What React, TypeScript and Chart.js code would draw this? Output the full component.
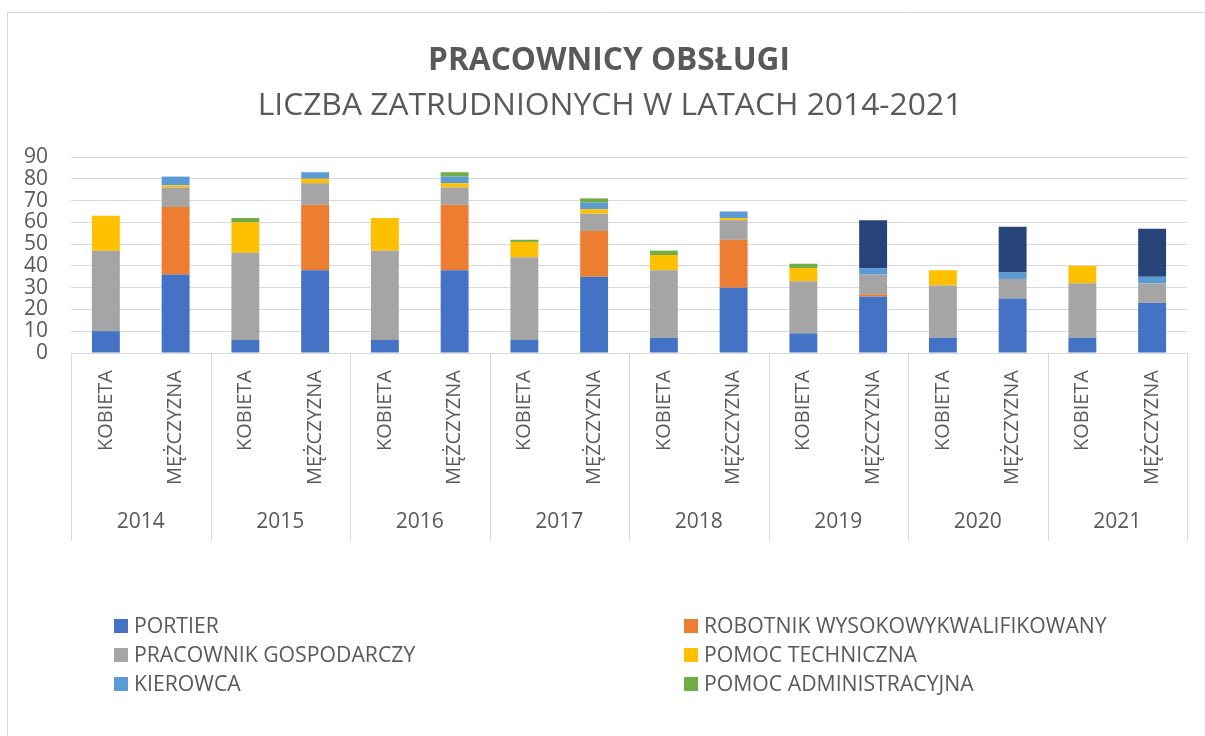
import React, { useEffect, useRef } from "react";
import { Chart, registerables } from "chart.js";

Chart.register(...registerables);

const TITLE = "PRACOWNICY OBSŁUGI";
const SUBTITLE = "LICZBA ZATRUDNIONYCH W LATACH 2014-2021";

const years = ["2014", "2015", "2016", "2017", "2018", "2019", "2020", "2021"];
const genders = ["KOBIETA", "MĘŻCZYZNA"];

// values per category: [2014 K, 2014 M, 2015 K, 2015 M, ...]
const portier = [10, 36, 6, 38, 6, 38, 6, 35, 7, 30, 9, 26, 7, 25, 7, 23];
const robotnik = [0, 31, 0, 30, 0, 30, 0, 21, 0, 22, 0, 1, 0, 0, 0, 0];
const gospodarczy = [37, 9, 40, 10, 41, 8, 38, 8, 31, 9, 24, 9, 24, 9, 25, 9];
const techniczna = [16, 1, 14, 2, 15, 2, 7, 2, 7, 1, 6, 0, 7, 0, 8, 0];
const kierowca = [0, 4, 0, 3, 0, 3, 0, 3, 0, 3, 0, 3, 0, 3, 0, 3];
const administracyjna = [0, 0, 2, 0, 0, 2, 1, 2, 2, 0, 2, 0, 0, 0, 0, 0];
const inne = [0, 0, 0, 0, 0, 0, 0, 0, 0, 0, 0, 22, 0, 21, 0, 22];

const seriesNames = [
  "PORTIER",
  "ROBOTNIK WYSOKOWYKWALIFIKOWANY",
  "PRACOWNIK GOSPODARCZY",
  "POMOC TECHNICZNA",
  "KIEROWCA",
  "POMOC ADMINISTRACYJNA",
  "INNE",
];
const seriesValues = [portier, robotnik, gospodarczy, techniczna, kierowca, administracyjna, inne];
const seriesColors = ["#4472C4", "#ED7D31", "#A5A5A5", "#FFC000", "#5B9BD5", "#70AD47", "#264478"];
const legendCount = 6;

const yTicks = [0, 10, 20, 30, 40, 50, 60, 70, 80, 90];

const labels = years.flatMap(() => genders);

const FONT = "'Open Sans', 'Noto Sans', sans-serif";
const TEXT = "#595959";
const GRID = "#d9d9d9";

function fitFont(ctx: CanvasRenderingContext2D, text: string, weight: string, target: number) {
  ctx.font = `${weight} 100px ${FONT}`;
  const w = ctx.measureText(text).width;
  return `${weight} ${(100 * target) / w}px ${FONT}`;
}

const decor = {
  id: "decor",
  beforeDraw(chart: any) {
    const ctx = chart.ctx as CanvasRenderingContext2D;
    ctx.save();
    ctx.fillStyle = "#ffffff";
    ctx.fillRect(0, 0, chart.width, chart.height);
    ctx.strokeStyle = GRID;
    ctx.lineWidth = 1;
    ctx.beginPath();
    ctx.moveTo(7.5, chart.height);
    ctx.lineTo(7.5, 12.5);
    ctx.lineTo(chart.width, 12.5);
    ctx.stroke();
    ctx.restore();
  },
  afterDraw(chart: any) {
    const ctx = chart.ctx as CanvasRenderingContext2D;
    const area = chart.chartArea;
    const xs = chart.scales.x;
    ctx.save();
    ctx.fillStyle = TEXT;
    ctx.textAlign = "center";
    ctx.textBaseline = "alphabetic";
    ctx.font = fitFont(ctx, TITLE, "bold", 362);
    ctx.fillText(TITLE, 609, 70);
    ctx.font = fitFont(ctx, SUBTITLE, "normal", 705);
    ctx.fillText(SUBTITLE, 610, 115);

    // category labels (rotated)
    ctx.font = `20px ${FONT}`;
    labels.forEach((lab, i) => {
      const cx = xs.getPixelForValue(i);
      ctx.save();
      ctx.translate(cx, area.bottom + 17);
      ctx.rotate(-Math.PI / 2);
      ctx.textAlign = "right";
      ctx.textBaseline = "middle";
      ctx.fillText(lab, 0, 0);
      ctx.restore();
    });

    // group dividers
    const groupW = (area.right - area.left) / years.length;
    ctx.strokeStyle = GRID;
    ctx.lineWidth = 1;
    ctx.beginPath();
    for (let g = 0; g <= years.length; g++) {
      const px = Math.round(area.left + g * groupW) + 0.5;
      ctx.moveTo(px, area.bottom);
      ctx.lineTo(px, 541);
    }
    ctx.stroke();

    // year labels
    ctx.textAlign = "center";
    ctx.textBaseline = "alphabetic";
    ctx.font = `21px ${FONT}`;
    years.forEach((y, g) => {
      ctx.fillText(y, area.left + (g + 0.5) * groupW, 528);
    });

    // legend (two columns)
    const legendFont = fitFont(ctx, seriesNames[1], "normal", 403);
    ctx.font = legendFont;
    ctx.textAlign = "left";
    const colX = [114, 684];
    const rowBase = [633, 662, 691];
    for (let i = 0; i < legendCount; i++) {
      const col = i % 2;
      const row = Math.floor(i / 2);
      const bx = colX[col];
      const by = rowBase[row];
      ctx.fillStyle = seriesColors[i];
      ctx.fillRect(bx, by - 14, 14, 14);
      ctx.fillStyle = TEXT;
      ctx.fillText(seriesNames[i], bx + 20, by);
    }
    ctx.restore();
  },
};

export default function App() {
  const ref = useRef<HTMLCanvasElement | null>(null);
  useEffect(() => {
    if (!ref.current) return;
    const chart = new Chart(ref.current, {
      type: "bar",
      data: {
        labels,
        datasets: seriesNames.map((name, i) => ({
          label: name,
          data: seriesValues[i],
          backgroundColor: seriesColors[i],
          borderWidth: 0,
          categoryPercentage: 1,
          barPercentage: 0.4,
        })),
      },
      options: {
        animation: false,
        responsive: true,
        maintainAspectRatio: false,
        layout: { padding: { left: 0, right: 18, top: 157, bottom: 0 } },
        plugins: {
          legend: { display: false },
          title: { display: false },
          tooltip: { enabled: false },
        },
        scales: {
          x: {
            stacked: true,
            grid: { display: false },
            border: { display: true, color: GRID, width: 1 },
            ticks: { display: false },
            afterFit: (s: any) => {
              s.height = 736 - 353;
            },
          },
          y: {
            stacked: true,
            min: 0,
            max: 90,
            afterBuildTicks: (s: any) => {
              s.ticks = yTicks.map((v) => ({ value: v }));
            },
            grid: { color: GRID, lineWidth: 1, drawTicks: false },
            border: { display: false },
            ticks: {
              autoSkip: false,
              padding: 23,
              color: TEXT,
              font: { family: FONT, size: 21 },
            },
            afterFit: (s: any) => {
              s.width = 71;
            },
          },
        },
      },
      plugins: [decor],
    });
    return () => chart.destroy();
  }, []);
  return (
    <div style={{ position: "fixed", left: 0, top: 0, width: 1205, height: 736, background: "#fff" }}>
      <canvas ref={ref} />
    </div>
  );
}
